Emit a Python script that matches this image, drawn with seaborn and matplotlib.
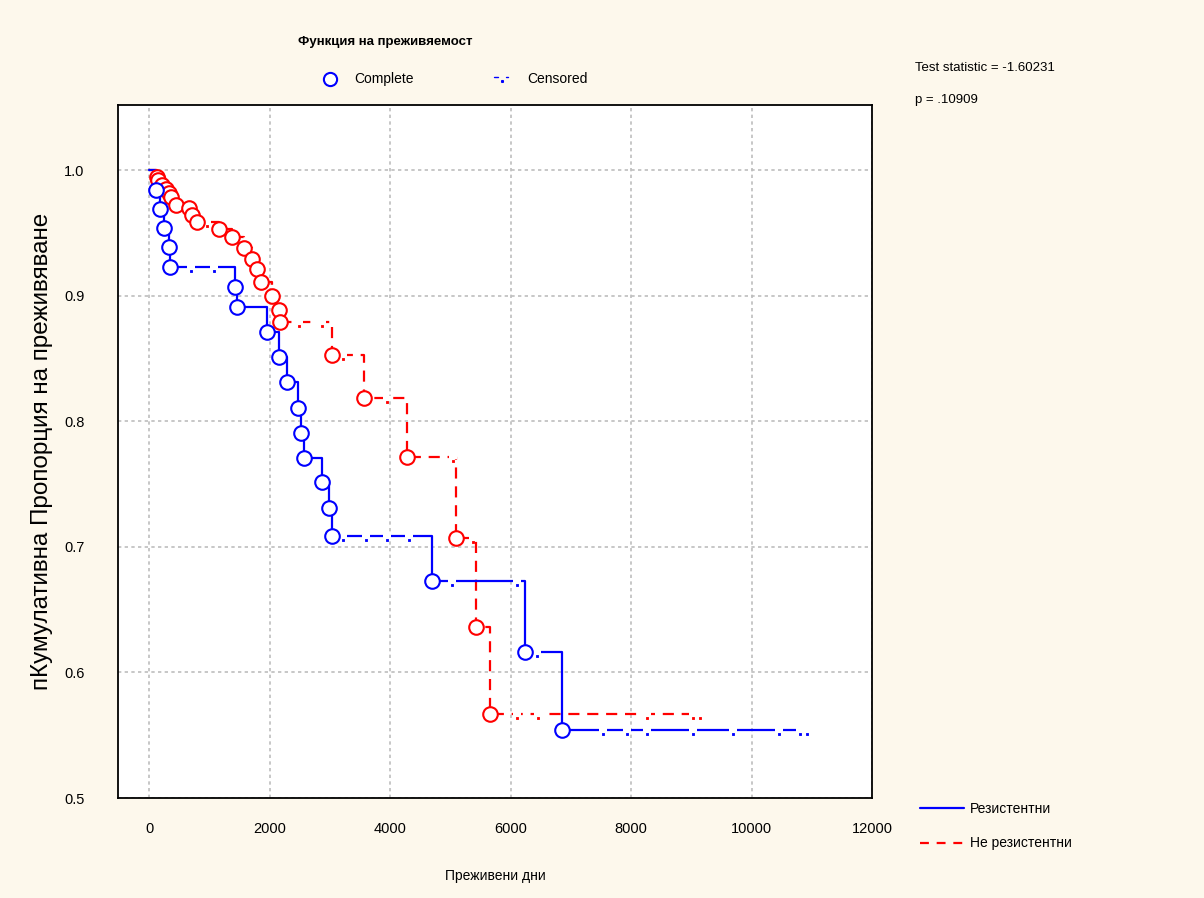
import numpy as np
import pandas as pd
import matplotlib
matplotlib.use("Agg")
import matplotlib.pyplot as plt
import seaborn as sns
from matplotlib.lines import Line2D
from matplotlib.path import Path
from matplotlib.markers import MarkerStyle

# ---------------- data ----------------
series_names = ["Резистентни", "Не резистентни"]

blue_event_t = [116, 183, 249, 332, 340, 1430, 1460, 1960, 2160, 2290, 2475, 2525,
                2575, 2874, 2990, 3040, 4700, 6246, 6860]
blue_event_s = [0.984, 0.969, 0.954, 0.939, 0.923, 0.907, 0.891, 0.871, 0.851, 0.831,
                0.811, 0.791, 0.771, 0.752, 0.731, 0.709, 0.673, 0.616, 0.554]
blue_cens_t = [700, 1080, 3220, 3590, 3950, 4320, 5030, 6110, 6445, 7540, 7940,
               8270, 9020, 9700, 10450, 10800, 10920]

red_event_t = [128, 150, 216, 283, 332, 365, 448, 664, 714, 797, 1163, 1379, 1578,
               1711, 1794, 1860, 2035, 2160, 2175, 3040, 3571, 4286, 5100, 5432, 5664]
red_event_s = [0.995, 0.992, 0.988, 0.985, 0.982, 0.979, 0.972, 0.970, 0.964, 0.959,
               0.953, 0.947, 0.938, 0.929, 0.921, 0.911, 0.900, 0.889, 0.879, 0.853,
               0.819, 0.772, 0.707, 0.636, 0.567]
red_cens_t = [965, 2490, 2860, 3210, 3940, 5040, 5380, 6100, 6450, 8270, 9020, 9140]

x_ticks = [0, 2000, 4000, 6000, 8000, 10000, 12000]
y_ticks = [0.5, 0.6, 0.7, 0.8, 0.9, 1.0]

test_stat_text = "Test statistic = -1.60231"
p_text = "p = .10909"
legend_title = "Функция на преживяемост"
x_label = "Преживени дни"
y_label = "пКумулативна Пропорция на преживяване"

# ---------------- styling ----------------
sns.set_theme(style="white")
plt.rcParams["font.family"] = ["Liberation Sans", "DejaVu Sans"]
plt.rcParams["text.color"] = "black"
plt.rcParams["axes.labelcolor"] = "black"
plt.rcParams["xtick.color"] = "black"
plt.rcParams["ytick.color"] = "black"

BLUE = "#0000ff"
RED = "#ff0000"
BG = "#fdf8ec"

fig = plt.figure(figsize=(12.04, 8.98), dpi=100, facecolor=BG)
ax = fig.add_axes([118 / 1204, 1 - 798 / 898, (872 - 118) / 1204, (798 - 105) / 898])
ax.set_facecolor("white")


def step_frame(times, surv, cens, label):
    t = [0] + list(times)
    s = [1.0] + list(surv)
    end_t = max(cens[-1], t[-1])
    t.append(end_t)
    s.append(s[-1])
    return pd.DataFrame({"t": t, "s": s, "group": label})


def cens_frame(times, surv, cens, label):
    t = np.array(times)
    s = np.array(surv)
    vals = []
    for c in cens:
        idx = np.searchsorted(t, c, side="right") - 1
        vals.append(1.0 if idx < 0 else s[idx])
    return pd.DataFrame({"t": cens, "s": vals, "group": label})


blue_df = step_frame(blue_event_t, blue_event_s, blue_cens_t, series_names[0])
red_df = step_frame(red_event_t, red_event_s, red_cens_t, series_names[1])
blue_c = cens_frame(blue_event_t, blue_event_s, blue_cens_t, series_names[0])
red_c = cens_frame(red_event_t, red_event_s, red_cens_t, series_names[1])

sns.lineplot(data=red_df, x="t", y="s", ax=ax, color=RED, lw=1.6,
             drawstyle="steps-post", estimator=None, sort=False,
             linestyle=(0, (5, 3.5)), legend=False, zorder=3)
sns.lineplot(data=blue_df, x="t", y="s", ax=ax, color=BLUE, lw=1.6,
             drawstyle="steps-post", estimator=None, sort=False,
             legend=False, zorder=3)

# censored marks: a small gap in the line and a dot just below it
dot_path = Path([(-0.18, -1.0), (0.18, -1.0), (0.18, -0.7), (-0.18, -0.7), (-0.18, -1.0),
                 (0, 1.0)],
                [Path.MOVETO, Path.LINETO, Path.LINETO, Path.LINETO, Path.CLOSEPOLY,
                 Path.MOVETO])
dot_marker = MarkerStyle(dot_path)
for cdf, col in [(red_c, RED), (blue_c, BLUE)]:
    ax.plot(cdf["t"], cdf["s"], ls="none", marker="_", ms=6, mew=3, color="white", zorder=4)
    ax.plot(cdf["t"], cdf["s"], ls="none", marker=dot_marker, ms=7, mew=0.6,
            color=col, zorder=4)

# complete (event) circles
red_pts = pd.DataFrame({"t": red_event_t, "s": red_event_s})
blue_pts = pd.DataFrame({"t": blue_event_t, "s": blue_event_s})
sns.scatterplot(data=red_pts, x="t", y="s", ax=ax, s=110, marker="o",
                facecolor="white", edgecolor=RED, linewidth=1.5, zorder=5)
sns.scatterplot(data=blue_pts, x="t", y="s", ax=ax, s=110, marker="o",
                facecolor="white", edgecolor=BLUE, linewidth=1.5, zorder=5)

# axes
ax.set_xlim(-520, 12000)
ax.set_ylim(0.5, 1.052)
ax.set_xticks(x_ticks)
ax.set_yticks(y_ticks)
ax.set_xticklabels([str(v) for v in x_ticks], fontsize=10.5)
ax.set_yticklabels([f"{v:.1f}" for v in y_ticks], fontsize=10.5)
ax.tick_params(axis="x", direction="in", length=4, width=1, pad=17, color="black")
ax.tick_params(axis="y", direction="in", length=6, width=1, pad=24, color="black")
ax.grid(True, color="#bdbdbd", linestyle=(0, (2, 2)), linewidth=1.2)
for sp in ax.spines.values():
    sp.set_visible(True)
    sp.set_color("black")
    sp.set_linewidth(1.3)
ax.set_xlabel(x_label, fontsize=10, labelpad=24)
ax.set_ylabel(y_label, fontsize=17.5, labelpad=8)

# header legend
fig.text(298 / 1204, 1 - 42 / 898, legend_title, fontsize=9.5, fontweight="bold",
         ha="left", va="center")
fig.lines.append(Line2D([330 / 1204], [1 - 79 / 898], transform=fig.transFigure,
                        marker="o", ms=9.5, mfc="white", mec=BLUE, mew=1.5, ls="none"))
fig.text(354 / 1204, 1 - 79 / 898, "Complete", fontsize=10, ha="left", va="center")
fig.lines.append(Line2D([494 / 1204, 498 / 1204], [1 - 77 / 898, 1 - 77 / 898],
                        transform=fig.transFigure, color=BLUE, lw=1))
fig.lines.append(Line2D([502 / 1204], [1 - 81 / 898], transform=fig.transFigure,
                        marker="s", ms=1.2, color=BLUE, ls="none"))
fig.lines.append(Line2D([506 / 1204, 508 / 1204], [1 - 77 / 898, 1 - 77 / 898],
                        transform=fig.transFigure, color=BLUE, lw=1))
fig.text(527 / 1204, 1 - 79 / 898, "Censored", fontsize=10, ha="left", va="center")

# test statistic
fig.text(915 / 1204, 1 - 68 / 898, test_stat_text, fontsize=9.5, ha="left", va="center")
fig.text(915 / 1204, 1 - 100 / 898, p_text, fontsize=9.5, ha="left", va="center")

# series legend
handles = [Line2D([], [], color=BLUE, lw=1.6),
           Line2D([], [], color=RED, lw=1.6, linestyle=(0, (4, 3.5)))]
fig.legend(handles, series_names, loc="upper left",
           bbox_to_anchor=(914 / 1204, 1 - 796 / 898), frameon=False, fontsize=10,
           handlelength=3.2, handletextpad=0.4, labelspacing=1.5, borderaxespad=0)

fig.savefig("out.png", dpi=100, facecolor=BG)
